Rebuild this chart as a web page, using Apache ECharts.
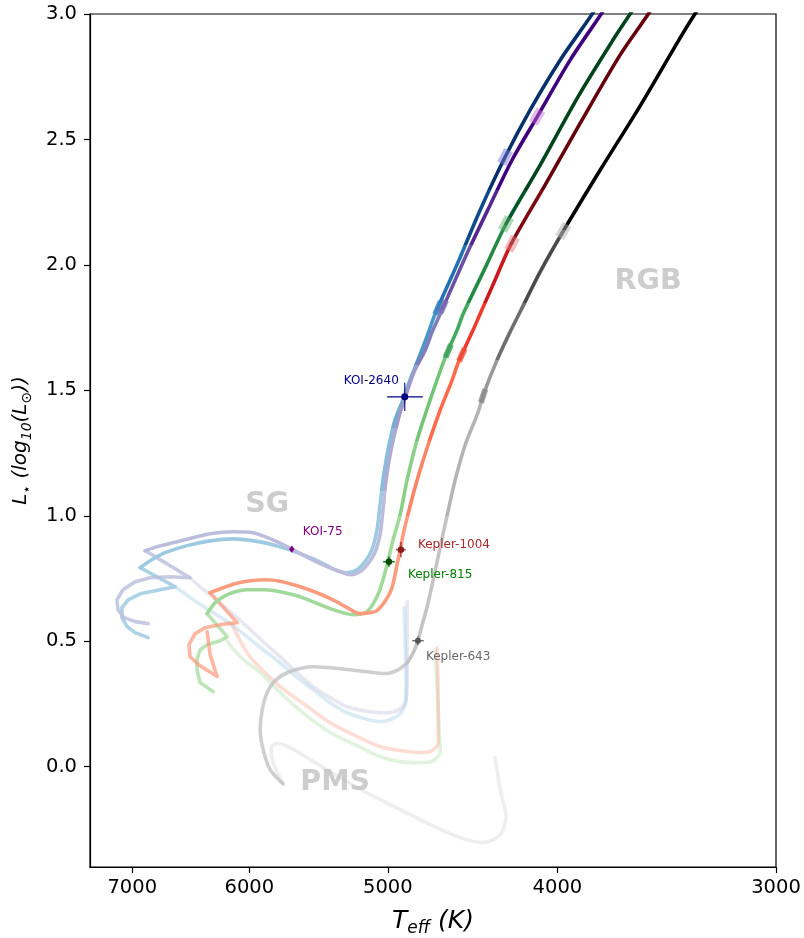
<!DOCTYPE html>
<html>
<head>
<meta charset="utf-8">
<script src="https://cdn.jsdelivr.net/npm/echarts@6/dist/echarts.min.js"></script>
<style>
  html, body { margin: 0; padding: 0; background: #ffffff; }
  #chart { width: 804px; height: 938px; }
</style>
</head>
<body>
<div id="chart"></div>
<script>
// Axis ticks
const tempTicks = [3000, 4000, 5000, 6000, 7000];
const lumTicks = [0, 0.5, 1.0, 1.5, 2.0, 2.5, 3.0];

// Evolutionary tracks, points are [Teff (K), log10(L/Lsun)]
// Each track is split into pre-main-sequence, main-sequence and post-main-sequence parts.
const blueTrackPMS = [[4894,0.634],[4888,0.506],[4882,0.347],[4882,0.267],[4920,0.211],[4986,0.187],[5052,0.179],[5152,0.191],[5276,0.215],[5395,0.255],[5517,0.307],[5642,0.359],[5762,0.414],[5892,0.466],[6018,0.518],[6154,0.570],[6293,0.614],[6445,0.661],[6616,0.717]];
const blueTrackMS = [[6855,0.514],[6973,0.534],[7048,0.558],[7095,0.594],[7095,0.634],[7038,0.665],[6927,0.689],[6792,0.701],[6616,0.717],[6927,0.793]];
const blueTrackPost = [[6927,0.793],[6837,0.821],[6704,0.853],[6487,0.884],[6318,0.900],[6130,0.908],[5915,0.896],[5762,0.876],[5612,0.849],[5503,0.825],[5417,0.801],[5345,0.781],[5276,0.773],[5207,0.785],[5152,0.817],[5106,0.865],[5072,0.944],[5052,1.044],[5032,1.143],[4999,1.263],[4953,1.383],[4901,1.462],[4856,1.542],[4805,1.622],[4748,1.717],[4698,1.805],[4558,2.012],[4428,2.219],[4285,2.430],[4146,2.618],[3985,2.817],[3821,3.0],[3781,3.056]];

const purpleTrackPMS = [[4875,0.657],[4875,0.506],[4875,0.347],[4882,0.267],[4920,0.231],[5006,0.215],[5119,0.219],[5276,0.239],[5395,0.275],[5517,0.319],[5642,0.379],[5762,0.438],[5892,0.498],[6018,0.558],[6154,0.618],[6293,0.677],[6402,0.717],[6487,0.753]];
const purpleTrackMS = [[6855,0.570],[6973,0.578],[7076,0.594],[7133,0.626],[7142,0.665],[7086,0.705],[6973,0.737],[6837,0.753],[6659,0.757],[6487,0.753],[6882,0.861]];
const purpleTrackPost = [[6882,0.861],[6748,0.880],[6530,0.904],[6318,0.928],[6130,0.936],[5994,0.934],[5915,0.924],[5800,0.900],[5680,0.869],[5539,0.829],[5417,0.797],[5324,0.777],[5255,0.765],[5186,0.777],[5132,0.809],[5086,0.853],[5052,0.924],[5032,1.024],[5012,1.143],[4979,1.263],[4933,1.383],[4882,1.482],[4830,1.574],[4760,1.661],[4717,1.733],[4667,1.805],[4576,1.940],[4487,2.072],[4370,2.239],[4246,2.418],[4108,2.590],[3933,2.817],[3776,3.0],[3731,3.056]];

const greenTrackPMS = [[4698,0.466],[4686,0.307],[4673,0.147],[4667,0.060],[4710,0.024],[4792,0.016],[4920,0.020],[5052,0.040],[5220,0.088],[5395,0.136],[5575,0.207],[5762,0.295],[5915,0.375],[6073,0.438],[6195,0.510]];
const greenTrackMS = [[6293,0.299],[6402,0.335],[6428,0.386],[6428,0.426],[6402,0.466],[6343,0.486],[6235,0.502],[6178,0.518],[6343,0.610]];
const greenTrackPost = [[6343,0.610],[6277,0.653],[6211,0.677],[6114,0.697],[6018,0.705],[5877,0.705],[5762,0.697],[5635,0.681],[5517,0.657],[5374,0.626],[5234,0.606],[5139,0.618],[5072,0.677],[5032,0.745],[4999,0.821],[4966,0.904],[4920,1.004],[4875,1.143],[4811,1.303],[4729,1.462],[4637,1.630],[4564,1.741],[4528,1.805],[4399,1.988],[4280,2.163],[4092,2.398],[3891,2.673],[3712,2.904],[3635,3.0],[3588,3.056]];

const redTrackPMS = [[4686,0.474],[4680,0.307],[4680,0.096],[4717,0.064],[4792,0.056],[4920,0.064],[5052,0.080],[5220,0.124],[5395,0.175],[5575,0.247],[5762,0.319],[5915,0.394],[6018,0.454],[6138,0.566]];
const redTrackMS = [[6343,0.538],[6318,0.446],[6260,0.359],[6402,0.402],[6487,0.438],[6496,0.486],[6445,0.530],[6360,0.554],[6235,0.566],[6097,0.574],[6318,0.693]];
const redTrackPost = [[6318,0.693],[6211,0.713],[6114,0.729],[6018,0.739],[5877,0.745],[5762,0.739],[5635,0.721],[5517,0.699],[5374,0.665],[5276,0.634],[5186,0.610],[5119,0.614],[5072,0.622],[5012,0.665],[4973,0.713],[4940,0.805],[4920,0.865],[4894,0.944],[4862,1.024],[4811,1.143],[4742,1.283],[4667,1.422],[4594,1.542],[4558,1.610],[4469,1.741],[4428,1.805],[4342,1.940],[4251,2.084],[4065,2.319],[3881,2.566],[3683,2.837],[3549,3.0],[3508,3.056]];

const greyTrackPMS = [[4342,0.036],[4313,-0.092],[4280,-0.199],[4313,-0.271],[4411,-0.303],[4546,-0.283],[4729,-0.231],[4920,-0.171],[5119,-0.111],[5324,-0.044],[5539,0.028],[5687,0.076],[5785,0.092],[5830,0.076],[5815,0.016],[5740,-0.068]];
const greyTrackMS = [[5740,-0.068],[5838,-0.012],[5892,0.068],[5915,0.147],[5899,0.227],[5861,0.295],[5800,0.343],[5687,0.379],[5517,0.398],[5324,0.390],[5152,0.379],[5019,0.371],[4933,0.386],[4875,0.414]];
const greyTrackPost = [[4875,0.414],[4836,0.454],[4805,0.506],[4779,0.566],[4748,0.638],[4710,0.745],[4667,0.876],[4624,1.004],[4576,1.143],[4516,1.283],[4446,1.402],[4399,1.502],[4330,1.622],[4257,1.733],[4201,1.813],[4092,1.972],[3969,2.135],[3781,2.378],[3588,2.633],[3404,2.904],[3338,3.0],[3296,3.056]];

// Points along the red-giant branch highlighted on each track (order: blue, purple, green, red, grey)
const upperMarkTeff = [4285, 4108, 4280, 4246, 3969];
const upperMarkLum = [2.430, 2.590, 2.163, 2.084, 2.135];
const lowerMarkTeff = [4681, 4649, 4618, 4536, 4411];
const lowerMarkLum = [1.829, 1.833, 1.657, 1.641, 1.478];

// Host stars
const starNames = ['KOI-2640', 'KOI-75', 'Kepler-1004', 'Kepler-815', 'Kepler-643'];
const starTeff = [4890, 5674, 4915, 4993, 4806];
const starTeffErr = [115, 0, 32, 38, 37];
const starLum = [1.474, 0.867, 0.865, 0.817, 0.502];
const starLumErr = [0.056, 0, 0.030, 0.020, 0.018];

// Evolutionary phase annotations
const phaseNames = ['SG', 'RGB', 'PMS'];
const phaseTeff = [5861, 3550, 5359];
const phaseLum = [1.044, 1.932, -0.064];

// ---- styling ----
const FONT = 'DejaVu Sans';

const starStyle = [
  { color: '#000080', bar: '#000080', barWidth: 1.1, r: 3.5, marker: 'circle', label: '#000080', dx: -6, dy: -16, align: 'right' },
  { color: '#800080', bar: '#800080', barWidth: 1.0, r: 3.6, marker: 'diamond', label: '#800080', dx: 11, dy: -17, align: 'left' },
  { color: '#8b1a1a', bar: 'rgba(165,42,42,0.85)', barWidth: 1.6, r: 3.2, marker: 'circle', label: '#a52a2a', dx: 17, dy: -5, align: 'left' },
  { color: '#004d00', bar: 'rgba(0,100,0,0.9)', barWidth: 1.6, r: 3.2, marker: 'circle', label: '#008000', dx: 19, dy: 13, align: 'left' },
  { color: '#555555', bar: 'rgba(90,90,90,0.85)', barWidth: 1.4, r: 3.0, marker: 'circle', label: '#696969', dx: 8, dy: 16, align: 'left' }
];

const upperMarkStyle = [
  { color: 'rgba(120,120,215,0.62)', rot: -27 },
  { color: 'rgba(195,110,215,0.58)', rot: -30 },
  { color: 'rgba(90,170,105,0.58)', rot: -28 },
  { color: 'rgba(225,120,120,0.58)', rot: -28 },
  { color: 'rgba(175,175,175,0.62)', rot: -30 }
];
const lowerMarkStyle = [
  { color: '#3a84c0', rot: -23 },
  { color: '#7b6db6', rot: -24 },
  { color: '#3ea35a', rot: -23 },
  { color: '#f0503a', rot: -24 },
  { color: '#8a8a8a', rot: -18 }
];

function trackLine(name, data, color, z, smooth) {
  const lineStyle = { width: 3.6, cap: 'round', join: 'round' };
  // tracks coloured by a visualMap leave the stroke colour to it
  if (color) lineStyle.color = color;
  return {
    type: 'line', name: name, data: data,
    symbol: 'none', showSymbol: false, smooth: smooth,
    lineStyle: lineStyle,
    silent: true, z: z, clip: true
  };
}

const series = [
  // pre-main-sequence (faint)
  trackLine('grey PMS', greyTrackPMS, 'rgba(189,189,189,0.25)', 1, 0.3),
  trackLine('green PMS', greenTrackPMS, 'rgba(161,217,155,0.32)', 1, 0.3),
  trackLine('red PMS', redTrackPMS, 'rgba(252,146,114,0.3)', 1, 0.3),
  trackLine('blue PMS', blueTrackPMS, 'rgba(158,202,225,0.38)', 1, 0.3),
  trackLine('purple PMS', purpleTrackPMS, 'rgba(188,189,220,0.36)', 1, 0.3),
  // main sequence
  trackLine('grey MS', greyTrackMS, 'rgba(189,189,189,0.72)', 2, 0.3),
  trackLine('green MS', greenTrackMS, 'rgba(161,217,155,0.72)', 2, 0),
  trackLine('red MS', redTrackMS, 'rgba(252,146,114,0.66)', 2, 0),
  trackLine('blue MS', blueTrackMS, 'rgba(158,202,225,0.85)', 2, 0),
  trackLine('purple MS', purpleTrackMS, 'rgba(188,189,220,0.82)', 2, 0),
  // subgiant and red-giant branch, coloured by luminosity
  trackLine('grey', greyTrackPost, null, 3, 0.3),
  trackLine('green', greenTrackPost, null, 3, 0.3),
  trackLine('red', redTrackPost, null, 3, 0.3),
  trackLine('blue', blueTrackPost, null, 3, 0.3),
  trackLine('purple', purpleTrackPost, null, 3, 0.3),
  {
    type: 'scatter', name: 'upper marks', silent: true, z: 4,
    symbol: 'rect', symbolSize: [10, 15],
    data: upperMarkTeff.map((t, i) => ({
      value: [t, upperMarkLum[i]],
      symbolRotate: upperMarkStyle[i].rot,
      itemStyle: { color: upperMarkStyle[i].color }
    }))
  },
  {
    type: 'scatter', name: 'lower marks', silent: true, z: 4,
    symbol: 'rect', symbolSize: [6, 14],
    data: lowerMarkTeff.map((t, i) => ({
      value: [t, lowerMarkLum[i]],
      symbolRotate: lowerMarkStyle[i].rot,
      itemStyle: { color: lowerMarkStyle[i].color }
    }))
  },
  {
    type: 'scatter', name: 'phases', silent: true, z: 5,
    symbolSize: 0,
    data: phaseNames.map((n, i) => ({ name: n, value: [phaseTeff[i], phaseLum[i]] })),
    label: {
      show: true, position: 'inside', formatter: p => p.name,
      fontFamily: FONT, fontWeight: 'bold', fontSize: 28.5, color: '#c0c0c0'
    }
  },
  {
    type: 'custom', name: 'stars', silent: true, z: 10,
    encode: { x: 0, y: 1 },
    data: starNames.map((n, i) => [starTeff[i], starLum[i], starTeffErr[i], starLumErr[i]]),
    renderItem: function (params, api) {
      const i = params.dataIndex;
      const T = api.value(0), L = api.value(1), eT = api.value(2), eL = api.value(3);
      const s = starStyle[i];
      const c = api.coord([T, L]);
      const children = [];
      if (eT > 0) {
        const a = api.coord([T + eT, L]), b = api.coord([T - eT, L]);
        children.push({ type: 'line', shape: { x1: a[0], y1: a[1], x2: b[0], y2: b[1] },
          style: { stroke: s.bar, lineWidth: s.barWidth } });
      }
      if (eL > 0) {
        const u = api.coord([T, L + eL]), d = api.coord([T, L - eL]);
        children.push({ type: 'line', shape: { x1: u[0], y1: u[1], x2: d[0], y2: d[1] },
          style: { stroke: s.bar, lineWidth: s.barWidth } });
      }
      if (s.marker === 'diamond') {
        children.push({ type: 'polygon', shape: { points: [
          [c[0], c[1] - s.r], [c[0] + s.r * 0.75, c[1]], [c[0], c[1] + s.r], [c[0] - s.r * 0.75, c[1]]
        ] }, style: { fill: s.color } });
      } else {
        children.push({ type: 'circle', shape: { cx: c[0], cy: c[1], r: s.r }, style: { fill: s.color } });
      }
      children.push({ type: 'text', x: c[0] + s.dx, y: c[1] + s.dy,
        style: { text: starNames[i], fill: s.label, font: '12px "' + FONT + '"',
          align: s.align, verticalAlign: 'middle' } });
      return { type: 'group', children: children };
    }
  }
];

function pieces(list) {
  // list: [[upperBound, color], ...] ascending, last bound null
  const out = [];
  let lo = null;
  list.forEach(([hi, color]) => {
    const p = { color: color };
    if (lo !== null) p.gte = lo;
    if (hi !== null) p.lt = hi;
    out.push(p);
    lo = hi;
  });
  return out;
}

const visualMap = [
  { seriesIndex: 10, pieces: pieces([[1.0, '#c4c4c4'], [1.45, '#b4b4b4'], [1.62, '#9a9a9a'], [1.85, '#6e6e6e'], [2.14, '#4a4a4a'], [null, '#000000']]) },
  { seriesIndex: 11, pieces: pieces([[1.0, '#a1d99b'], [1.3, '#8ccf86'], [1.63, '#74c476'], [1.85, '#41ab5d'], [2.16, '#238b45'], [2.3, '#00582a'], [null, '#00441b']]) },
  { seriesIndex: 12, pieces: pieces([[1.0, '#fc9c7e'], [1.3, '#fb8466'], [1.62, '#fb6a4a'], [1.85, '#ef3b2c'], [2.08, '#cb181d'], [2.3, '#7f0a12'], [null, '#67000d']]) },
  { seriesIndex: 13, pieces: pieces([[1.1, '#9ecae1'], [1.35, '#86bcdd'], [1.6, '#6baed6'], [1.82, '#4a97ca'], [2.08, '#2171b5'], [2.3, '#0c4a8e'], [null, '#08306b']]) },
  { seriesIndex: 14, pieces: pieces([[1.1, '#bcbddc'], [1.35, '#aeabd3'], [1.6, '#9e9ac8'], [1.82, '#807dba'], [2.08, '#6a51a3'], [2.3, '#54278f'], [null, '#3f007d']]) }
].map(v => Object.assign({ type: 'piecewise', show: false, dimension: 1 }, v));

const axisFont = { fontFamily: FONT, fontSize: 19.5, color: '#000000' };

const option = {
  animation: false,
  backgroundColor: '#ffffff',
  grid: {
    left: 90, right: 28, top: 14, bottom: 71,
    show: true, borderColor: '#000000', borderWidth: 1.2,
    containLabel: false, outerBoundsMode: 'none'
  },
  xAxis: {
    type: 'log', logBase: 10, min: 3000, max: 7400, inverse: true,
    axisLine: { onZero: false, lineStyle: { color: '#000000', width: 1.2 } },
    axisTick: { show: true, length: 6, customValues: tempTicks, lineStyle: { color: '#000000', width: 1.2 } },
    minorTick: { show: false },
    splitLine: { show: false },
    axisLabel: Object.assign({ margin: 11, customValues: tempTicks, formatter: v => String(Math.round(v)) }, axisFont),
    name: '{i|T}{s|eff}{i| (K)}',
    nameLocation: 'middle', nameGap: 38,
    nameTextStyle: {
      rich: {
        i: { fontFamily: FONT, fontStyle: 'italic', fontSize: 25, lineHeight: 32, color: '#000000' },
        s: { fontFamily: FONT, fontStyle: 'italic', fontSize: 17, lineHeight: 17, verticalAlign: 'bottom', color: '#000000' }
      }
    }
  },
  yAxis: {
    type: 'value', min: -0.4, max: 3.0,
    axisLine: { onZero: false, lineStyle: { color: '#000000', width: 1.2 } },
    axisTick: { show: true, length: 6, customValues: lumTicks, lineStyle: { color: '#000000', width: 1.2 } },
    splitLine: { show: false },
    axisLabel: Object.assign({ margin: 13, customValues: lumTicks, formatter: v => v.toFixed(1) }, axisFont),
    name: '{i|L}{s|⋆}{i| (log}{s|10}{i|(L}{s|⊙}{i|))}',
    nameLocation: 'middle', nameGap: 56, nameRotate: 90,
    nameTextStyle: {
      rich: {
        i: { fontFamily: FONT, fontStyle: 'italic', fontSize: 20, lineHeight: 26, color: '#000000' },
        s: { fontFamily: FONT, fontStyle: 'italic', fontSize: 14, lineHeight: 14, verticalAlign: 'bottom', color: '#000000' }
      }
    }
  },
  visualMap: visualMap,
  series: series
};

const chart = echarts.init(document.getElementById('chart'), null, { renderer: 'canvas' });
chart.setOption(option);
</script>
</body>
</html>
